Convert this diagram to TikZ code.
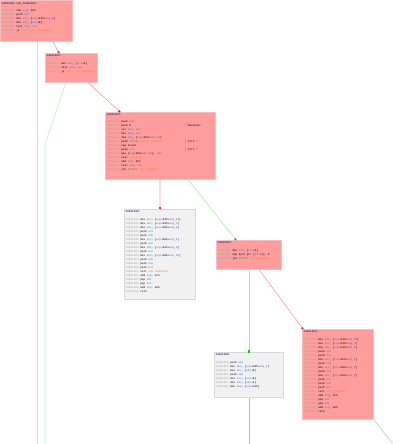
\documentclass[tikz,border=0pt]{standalone}
\usepackage{fontspec}
\setmonofont{Liberation Mono}
\usetikzlibrary{arrows.meta}
\definecolor{blkred}{HTML}{FF9C9C}
\definecolor{blkredline}{HTML}{F6BEBE}
\definecolor{blkgrey}{HTML}{F1F1F1}
\definecolor{blkgreyline}{HTML}{D9D9D9}
\definecolor{addrc}{HTML}{A6A6A6}
\definecolor{opc}{HTML}{3C7BD6}
\definecolor{argc}{HTML}{5A4FC8}
\definecolor{symc}{HTML}{FF7F1E}
\definecolor{offc}{HTML}{2E8A2E}
\definecolor{hdc}{HTML}{283C82}
\definecolor{redjmp}{HTML}{FF8C8C}
\definecolor{greenjmp}{HTML}{9AF09A}
\definecolor{bluejmp}{HTML}{B4B4F8}
\definecolor{greyjmp}{HTML}{BBBBBB}
\newcommand{\adr}[1]{\textcolor{addrc}{#1}}
\newcommand{\rg}[1]{\textcolor{opc}{#1}}
\newcommand{\ar}[1]{\textcolor{argc}{#1}}
\newcommand{\sy}[1]{\textcolor{symc}{#1}}
\newcommand{\ofs}{\textcolor{offc}{offset}}
\newcommand{\hd}[1]{\textcolor{hdc}{\bfseries #1}}
\newcommand{\cmtl}[2]{\makebox[78pt][l]{#1}#2}
\tikzset{
  redblk/.style={draw=blkredline,fill=blkred,line width=0.6pt,inner sep=0,anchor=north west},
  greyblk/.style={draw=blkgreyline,fill=blkgrey,line width=0.6pt,inner sep=0,anchor=north west},
  code/.style={anchor=north west,inner sep=0,align=left,font=\ttfamily\fontsize{2.7}{4}\selectfont},
  redflow/.style={draw=redjmp,line width=0.5pt,-{Square[length=1.8pt,width=1.8pt,color=red!85]}},
  greenflow/.style={draw=greenjmp,line width=0.5pt,-{Square[length=1.8pt,width=1.8pt,color=green!85!black]}},
  redband/.style={draw=redjmp!70,double=redjmp!30,line width=0.6pt,double distance=1.6pt,-{Square[length=1.8pt,width=1.8pt,color=red!85]}},
  greenline/.style={draw=greenjmp!70,line width=0.6pt},
  blueline/.style={draw=bluejmp,line width=0.7pt},
  greyline/.style={draw=greyjmp,line width=0.5pt}}
\begin{document}
\begin{tikzpicture}[x=1pt,y=-1pt]
  \useasboundingbox (0,0) rectangle (400,444);
  % blocks
  \node[redblk,minimum width=72pt,minimum height=41pt] (b1) at (0,0) {};
  \node[redblk,minimum width=52pt,minimum height=29pt] (b2) at (45,53) {};
  \node[redblk,minimum width=110pt,minimum height=67pt] (b3) at (105,112) {};
  \node[greyblk,minimum width=71pt,minimum height=90pt] (b4) at (124,209) {};
  \node[redblk,minimum width=65pt,minimum height=29pt] (b5) at (216,240) {};
  \node[greyblk,minimum width=69pt,minimum height=45pt] (b6) at (214,352) {};
  \node[redblk,minimum width=71pt,minimum height=90pt] (b7) at (302,329) {};
  % listings
  \node[code] (t1) at ([shift={(1.5pt,-2pt)}]b1.north west) {\hd{10001000 sub\_10001000:}\\[3pt]
    \adr{10001000} sub \rg{esp}, 40h\\
    \adr{10001003} push \rg{esi}\\
    \adr{10001004} mov \rg{ecx}, [\rg{esp}+44h+\ar{arg\_0}]\\
    \adr{10001008} mov \rg{esi}, [\rg{ecx}+8]\\
    \adr{1000100B} test \rg{esi}, \rg{esi}\\
    \adr{1000100D} jz \sy{short loc\_10001093}};
  \node[code] (t2) at ([shift={(1.5pt,-1.5pt)}]b2.north west) {\hd{1000100F:}\\[3.5pt]
    \adr{1000100F} mov \rg{eax}, [\rg{ecx}+4]\\
    \adr{10001012} test \rg{eax}, \rg{eax}\\
    \adr{10001014} jz \sy{short loc\_10001093}};
  \node[code] (t3) at ([shift={(1.5pt,-1pt)}]b3.north west) {\hd{10001016:}\\[3.5pt]
    \adr{10001016} push \rg{edi}\\
    \cmtl{\adr{10001017} push 8}{; MaxCount}\\
    \adr{10001019} xor \rg{eax}, \rg{eax}\\
    \adr{1000101B} mov \rg{edx}, \rg{esi}\\
    \adr{1000101D} lea \rg{edi}, [\rg{esp}+4Ch+\ar{var\_40}]\\
    \cmtl{\adr{10001021} push \ofs\ \sy{aHttp\_10003010}}{; Str2 "}\\
    \adr{10001026} rep stosd\\
    \cmtl{\adr{10001028} push \rg{esi}}{; Str1 "}\\
    \adr{10001029} mov [\rg{esp}+54h+\ar{var\_3C}], \rg{edx}\\
    \adr{1000102D} call \sy{\_strncmp}\\
    \adr{10001032} add \rg{esp}, 0Ch\\
    \adr{10001035} test \rg{eax}, \rg{eax}\\
    \adr{10001037} jnz \ofs\ \sy{loc\_10001052}};
  \node[code] (t4) at ([shift={(1.5pt,-1.5pt)}]b4.north west) {\hd{1000103D:}\\[3.5pt]
    \adr{1000103D} mov \rg{ecx}, [\rg{esp}+48h+\ar{arg\_10}]\\
    \adr{10001041} mov \rg{edx}, [\rg{esp}+48h+\ar{arg\_C}]\\
    \adr{10001045} mov \rg{eax}, [\rg{esp}+48h+\ar{arg\_8}]\\
    \adr{10001049} push \rg{ecx}\\
    \adr{1000104A} push \rg{edx}\\
    \adr{1000104B} mov \rg{ecx}, [\rg{esp}+50h+\ar{arg\_4}]\\
    \adr{1000104F} push \rg{eax}\\
    \adr{10001050} mov \rg{edx}, [\rg{esp}+54h+\ar{arg\_0}]\\
    \adr{10001054} push \rg{ecx}\\
    \adr{10001055} mov \rg{eax}, [\rg{esp}+58h+\ar{var\_3C}]\\
    \adr{10001059} push \rg{edx}\\
    \adr{1000105A} push \rg{eax}\\
    \adr{1000105B} push \rg{esi}\\
    \adr{1000105C} call \sy{sub\_10001100}\\
    \adr{10001061} add \rg{esp}, 1Ch\\
    \adr{10001064} pop \rg{edi}\\
    \adr{10001065} pop \rg{esi}\\
    \adr{10001066} add \rg{esp}, 40h\\
    \adr{10001069} retn};
  \node[code] (t5) at ([shift={(1.5pt,-1.5pt)}]b5.north west) {\hd{10001052:}\\[3.5pt]
    \adr{10001052} mov \rg{edx}, [\rg{esi}+4]\\
    \adr{10001055} cmp byte ptr [\rg{edx}+1], 0\\
    \adr{10001059} jnz \ofs\ \sy{loc\_10001093}};
  \node[code] (t6) at ([shift={(1.5pt,-1.5pt)}]b6.north west) {\hd{1000105B:}\\[3.5pt]
    \adr{1000105B} push \rg{ebx}\\
    \adr{1000105C} mov \rg{ebx}, [\rg{esp}+48h+\ar{arg\_4}]\\
    \adr{10001060} mov \rg{eax}, [\rg{ebx}+8]\\
    \adr{10001063} push \rg{ebp}\\
    \adr{10001064} mov \rg{ecx}, [\rg{eax}+8]\\
    \adr{10001067} mov \rg{edx}, [\rg{ebx}+4]\\
    \adr{1000106A} mov \rg{ebp}, [\rg{edx}+10h]};
  \node[code] (t7) at ([shift={(1.5pt,-1.5pt)}]b7.north west) {\hd{10001093:}\\[3.5pt]
    \adr{10001093} mov \rg{eax}, [\rg{esp}+44h+\ar{arg\_10}]\\
    \adr{10001097} mov \rg{ecx}, [\rg{esp}+44h+\ar{arg\_C}]\\
    \adr{1000109B} mov \rg{edx}, [\rg{esp}+44h+\ar{arg\_8}]\\
    \adr{1000109F} push \rg{eax}\\
    \adr{100010A0} push \rg{ecx}\\
    \adr{100010A1} mov \rg{eax}, [\rg{esp}+4Ch+\ar{arg\_4}]\\
    \adr{100010A5} push \rg{edx}\\
    \adr{100010A6} mov \rg{ecx}, [\rg{esp}+50h+\ar{arg\_0}]\\
    \adr{100010AA} push \rg{eax}\\
    \adr{100010AB} mov \rg{edx}, [\rg{esp}+54h+\ar{arg\_0}]\\
    \adr{100010AF} push \rg{ecx}\\
    \adr{100010B0} push \rg{edx}\\
    \adr{100010B1} push \rg{esi}\\
    \adr{100010B2} call \sy{sub\_10001200}\\
    \adr{100010B7} add \rg{esp}, 1Ch\\
    \adr{100010BA} pop \rg{esi}\\
    \adr{100010BB} pop \rg{edi}\\
    \adr{100010BC} add \rg{esp}, 40h\\
    \adr{100010BF} retn};
  % free ends of the outgoing edges
  \coordinate (o1) at (37,444);
  \coordinate (k2) at (45,144);
  \coordinate (o2) at (45,444);
  \coordinate (o6) at (249,444);
  \coordinate (o7) at (393,444);
  % edges
  \draw[redflow] ([xshift=53pt]b1.south west) -- ([xshift=14pt]b2.north west);
  \draw[greenline] ([xshift=37pt]b1.south west) -- (o1);
  \draw[greenline] ([xshift=21pt]b2.south west) -- (k2) -- (o2);
  \draw[redflow] ([xshift=43pt]b2.south west) -- ([xshift=15pt]b3.north west);
  \draw[redband] ([xshift=55pt]b3.south west) -- ([xshift=36pt]b4.north west);
  \draw[greenflow] ([xshift=83pt]b3.south west) -- ([xshift=20pt]b5.north west);
  \draw[greenflow] ([xshift=33pt]b5.south west) -- ([xshift=35pt]b6.north west);
  \draw[redflow] ([xshift=43pt]b5.south west) -- ([xshift=1pt]b7.north west);
  \draw[blueline] ([xshift=35pt]b6.south west) -- (o6);
  \draw[greyline] (b7.south east) -- (o7);
\end{tikzpicture}
\end{document}
